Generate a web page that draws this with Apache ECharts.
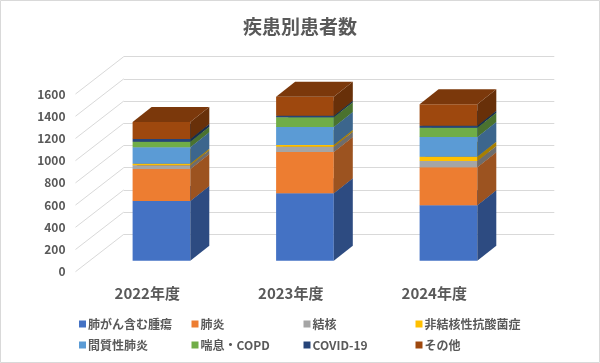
<!DOCTYPE html>
<html><head><meta charset="utf-8">
<script src="https://cdn.jsdelivr.net/npm/echarts@6/dist/echarts.min.js"></script>
<style>html,body{margin:0;padding:0;background:#fff}#c{width:600px;height:363px}</style>
</head><body><div id="c"></div>
<script>
const categories = ['2022年度', '2023年度', '2024年度'];
const yTicks = [0, 200, 400, 600, 800, 1000, 1200, 1400, 1600];
const seriesNames = ['肺がん含む腫瘍', '肺炎', '結核', '非結核性抗酸菌症', '間質性肺炎', '喘息・COPD', 'COVID-19', 'その他'];
const tumor = [538, 607, 499];
const pneumonia = [288, 372, 342];
const tuberculosis = [33, 48, 57];
const ntm = [14, 15, 39];
const interstitial = [148, 162, 177];
const asthmaCopd = [50, 87, 84];
const covid = [24, 14, 18];
const others = [153, 171, 193];
const seriesValues = [tumor, pneumonia, tuberculosis, ntm, interstitial, asthmaCopd, covid, others];
const colors = ['#4472C4', '#ED7D31', '#A5A5A5', '#FFC000', '#5B9BD5', '#70AD47', '#264478', '#9E480E'];

function shade(hex, f) {
  const n = parseInt(hex.slice(1), 16);
  const r = Math.round(((n >> 16) & 255) * f), g = Math.round(((n >> 8) & 255) * f), b = Math.round((n & 255) * f);
  return 'rgb(' + r + ',' + g + ',' + b + ')';
}

// 3D geometry (pixels)
const DEPTH_X = 48.3, DEPTH_Y = -37.4;      // full wall depth
const FRONT_F = 0.294;                       // bar front plane fraction of depth
const BAR_DX = 19, BAR_DY = -15;             // bar depth
const BAR_W_FRAC = 0.402;                    // bar width / band width

const FONT = '"Noto Sans CJK JP", "Noto Sans", sans-serif';
const TXT = '#595959';

const chart = echarts.init(document.getElementById('c'), null, {renderer: 'canvas'});

const stackBase = [0, 0, 0];
const series = [];
seriesValues.forEach((vals, si) => {
  const data = vals.map((v, i) => {
    const b = stackBase[i];
    stackBase[i] += v;
    return [i, b, b + v];
  });
  const col = colors[si];
  series.push({
    name: seriesNames[si],
    type: 'custom',
    xAxisIndex: 0, yAxisIndex: 0,
    z: 3,
    clip: false,
    itemStyle: {color: col},
    encode: {x: 0, y: [1, 2]},
    data: data,
    renderItem: function (params, api) {
      const i = api.value(0);
      const p0 = api.coord([i, api.value(1)]);
      const p1 = api.coord([i, api.value(2)]);
      const band = api.size([1, 0])[0];
      const w = band * BAR_W_FRAC;
      const ox = FRONT_F * DEPTH_X, oy = FRONT_F * DEPTH_Y;
      const x0 = p0[0] + ox - w / 2, x1 = x0 + w;
      const yb = p0[1] + oy, yt = p1[1] + oy;
      return {
        type: 'group',
        children: [
          {type: 'polygon', shape: {points: [[x0, yb], [x1, yb], [x1, yt], [x0, yt]]}, style: {fill: col}},
          {type: 'polygon', shape: {points: [[x1, yb], [x1 + BAR_DX, yb + BAR_DY], [x1 + BAR_DX, yt + BAR_DY], [x1, yt]]}, style: {fill: shade(col, 0.66)}},
          {type: 'polygon', shape: {points: [[x0, yt], [x1, yt], [x1 + BAR_DX, yt + BAR_DY], [x0 + BAR_DX, yt + BAR_DY]]}, style: {fill: shade(col, 0.78)}}
        ]
      };
    }
  });
});

// diagonal side-wall gridlines
series.push({
  type: 'custom',
  xAxisIndex: 0, yAxisIndex: 0,
  z: 1, silent: true, clip: false,
  encode: {y: 0},
  data: yTicks.map(v => [v]),
  renderItem: function (params, api) {
    const p = api.coord([0, api.value(0)]);
    const x = params.coordSys.x;
    return {type: 'line', shape: {x1: x, y1: p[1], x2: x + DEPTH_X, y2: p[1] + DEPTH_Y}, style: {stroke: '#d9d9d9', lineWidth: 1}};
  }
});

const legendPos = [[79, 318], [191.5, 318], [303.5, 318], [415.5, 318], [79, 339], [191.5, 339], [303.5, 339], [415.5, 339]];
const legends = seriesNames.map((n, i) => ({
  data: [n], left: legendPos[i][0], top: legendPos[i][1], padding: 0,
  icon: 'rect', itemWidth: 7, itemHeight: 7, itemGap: 0,
  textStyle: {color: TXT, fontSize: 12, fontWeight: 'bold', fontFamily: FONT, padding: [0, 0, 0, -3]}
}));

const FRONT = {left: 75.5, top: 94, width: 430.5, height: 177.7};
const option = {
  backgroundColor: '#fff',
  animation: false,
  title: {text: '疾患別患者数', left: 'center', top: 12, textStyle: {color: TXT, fontSize: 19, fontWeight: 'bold', fontFamily: FONT}},
  legend: legends,
  grid: [
    FRONT,
    {left: FRONT.left + DEPTH_X, top: FRONT.top + DEPTH_Y, width: FRONT.width, height: FRONT.height}
  ],
  xAxis: [
    {type: 'category', gridIndex: 0, data: categories, axisLine: {show: false}, axisTick: {show: false},
     axisLabel: {color: TXT, fontSize: 15, fontWeight: 'bold', fontFamily: FONT, margin: 14}},
    {type: 'category', gridIndex: 1, data: categories, show: false}
  ],
  yAxis: [
    {type: 'value', gridIndex: 0, min: 0, max: 1600, interval: 200, splitLine: {show: false},
     axisLine: {show: false}, axisTick: {show: false},
     axisLabel: {color: TXT, fontSize: 12, fontWeight: 'bold', fontFamily: FONT, margin: 10, formatter: v => String(v)}},
    {type: 'value', gridIndex: 1, min: 0, max: 1600, interval: 200,
     splitLine: {show: true, lineStyle: {color: '#d9d9d9', width: 1}},
     axisLine: {show: false}, axisTick: {show: false}, axisLabel: {show: false}}
  ],
  graphic: [{type: 'rect', shape: {x: 0.5, y: 0.5, width: 599, height: 362}, style: {fill: null, stroke: '#d9d9d9', lineWidth: 1}, silent: true, z: -1}],
  series: series
};
chart.setOption(option);
</script>
</body></html>
